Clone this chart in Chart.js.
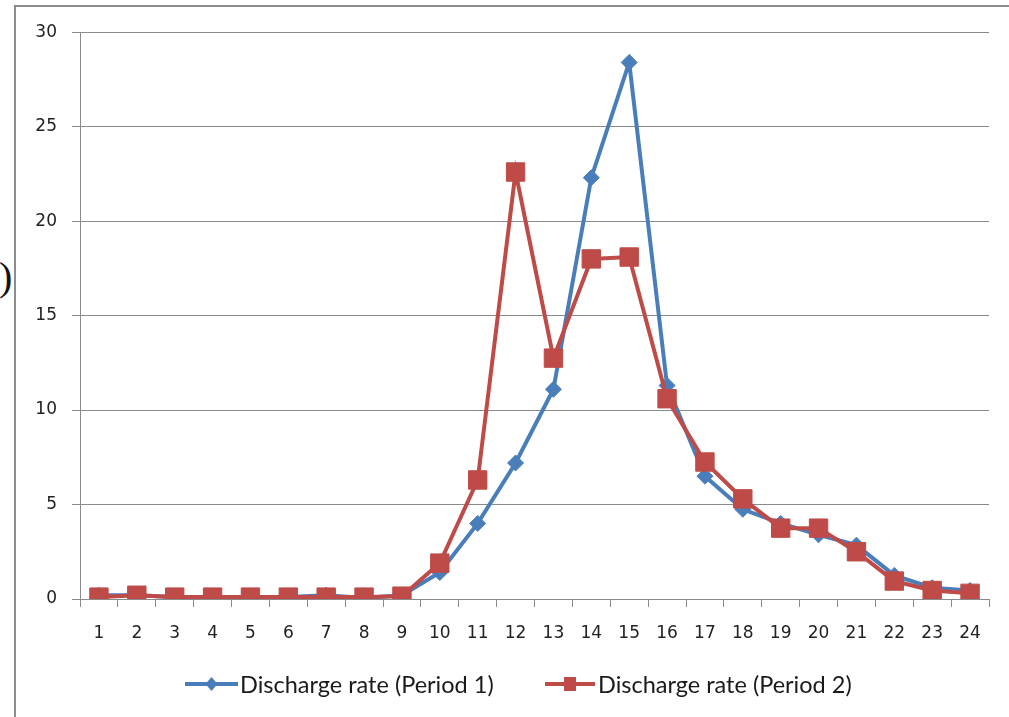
<!DOCTYPE html>
<html>
<head>
<meta charset="utf-8">
<script src="https://cdn.jsdelivr.net/npm/chart.js@4/dist/chart.umd.min.js"></script>
<style>
  html, body { margin: 0; padding: 0; background: #fff; width: 1009px; height: 717px; overflow: hidden; }
  #frame { position: absolute; left: 14px; top: 5px; width: 1100px; height: 800px;
           border-left: 2px solid #8c8c8c; border-top: 2px solid #8c8c8c; }
  #cv { position: absolute; left: 16px; top: 7px; }
  #paren { position: absolute; left: -1px; top: 257px; font-family: "Liberation Serif", serif;
           font-size: 40px; line-height: 1; color: #111; }
</style>
</head>
<body>
<div id="frame"></div>
<div id="paren">)</div>
<canvas id="cv" width="993" height="710"></canvas>
<script>
// Hour of day on the category axis
const hours = ['1','2','3','4','5','6','7','8','9','10','11','12',
               '13','14','15','16','17','18','19','20','21','22','23','24'];
// Discharge rate per hour, two observation periods
const period1 = [0.2, 0.2, 0.1, 0.1, 0.1, 0.1, 0.2, 0.05, 0.2, 1.4, 4.0, 7.2,
                 11.1, 22.3, 28.4, 11.3, 6.5, 4.75, 4.0, 3.4, 2.85, 1.25, 0.6, 0.45];
const period2 = [0.1, 0.2, 0.1, 0.1, 0.1, 0.1, 0.1, 0.1, 0.15, 1.9, 6.3, 22.6,
                 12.75, 18.0, 18.1, 10.6, 7.25, 5.3, 3.75, 3.75, 2.5, 0.95, 0.45, 0.3];
const seriesNames = ['Discharge rate (Period 1)', 'Discharge rate (Period 2)'];
const yTicks = [0, 5, 10, 15, 20, 25, 30];

const BLUE = '#4a7ebb';
const RED = '#be4b48';
const GRID = '#8a8a8a';

// Legend row drawn under the axis: line sample with marker, then label
const bottomLegend = {
  id: 'bottomLegend',
  afterDraw(chart) {
    const ctx = chart.ctx;
    const y = 677;
    const items = [
      { x0: 169, x1: 222, tx: 224, ds: chart.data.datasets[0], marker: 'diamond' },
      { x0: 529, x1: 579, tx: 582, ds: chart.data.datasets[1], marker: 'square' }
    ];
    ctx.save();
    items.forEach(it => {
      ctx.strokeStyle = it.ds.borderColor;
      ctx.lineWidth = 4;
      ctx.beginPath();
      ctx.moveTo(it.x0, y);
      ctx.lineTo(it.x1, y);
      ctx.stroke();
      const cx = (it.x0 + it.x1) / 2;
      ctx.fillStyle = it.ds.borderColor;
      ctx.beginPath();
      if (it.marker === 'diamond') {
        ctx.moveTo(cx, y - 7); ctx.lineTo(cx + 6, y); ctx.lineTo(cx, y + 7); ctx.lineTo(cx - 6, y);
        ctx.closePath();
      } else {
        ctx.rect(cx - 6, y - 7, 12, 14);
      }
      ctx.fill();
      ctx.fillStyle = '#1a1a1a';
      ctx.font = '23.5px Lato';
      ctx.textBaseline = 'middle';
      ctx.textAlign = 'left';
      ctx.fillText(it.ds.label, it.tx, y + 1);
    });
    ctx.restore();
  }
};

new Chart(document.getElementById('cv'), {
  type: 'line',
  data: {
    labels: hours,
    datasets: [
      {
        label: seriesNames[0],
        data: period1,
        borderColor: BLUE,
        backgroundColor: BLUE,
        borderWidth: 4,
        pointStyle: 'rectRot',
        pointRadius: 8,
        pointBorderWidth: 1,
        pointBackgroundColor: BLUE,
        pointBorderColor: BLUE,
        tension: 0,
        order: 1
      },
      {
        label: seriesNames[1],
        data: period2,
        borderColor: RED,
        backgroundColor: RED,
        borderWidth: 4,
        pointStyle: 'rect',
        pointRadius: 13,
        pointBorderWidth: 1,
        pointBackgroundColor: RED,
        pointBorderColor: RED,
        tension: 0,
        order: 0
      }
    ]
  },
  options: {
    responsive: false,
    devicePixelRatio: 1,
    animation: false,
    events: [],
    layout: { padding: { left: 0, right: 20, top: 25, bottom: 70 } },
    plugins: {
      legend: { display: false },
      tooltip: { enabled: false }
    },
    scales: {
      x: {
        type: 'category',
        offset: true,
        afterFit(scale) { scale.height = 48; },
        grid: {
          display: true,
          offset: true,
          drawOnChartArea: false,
          drawTicks: true,
          tickLength: 8,
          color: GRID,
          lineWidth: 1
        },
        border: { display: true, color: GRID, width: 1 },
        ticks: {
          padding: 16,
          color: '#222',
          font: { family: 'DejaVu Sans', size: 17 },
          maxRotation: 0,
          autoSkip: false
        }
      },
      y: {
        min: 0,
        max: 30,
        afterFit(scale) { scale.width = 64; },
        afterBuildTicks(scale) { scale.ticks = yTicks.map(v => ({ value: v })); },
        grid: {
          color: GRID,
          lineWidth: 1,
          drawTicks: true,
          tickLength: 8
        },
        border: { display: true, color: GRID, width: 1 },
        ticks: {
          padding: 15,
          color: '#222',
          font: { family: 'DejaVu Sans', size: 17 }
        }
      }
    }
  },
  plugins: [bottomLegend]
});
</script>
</body>
</html>
